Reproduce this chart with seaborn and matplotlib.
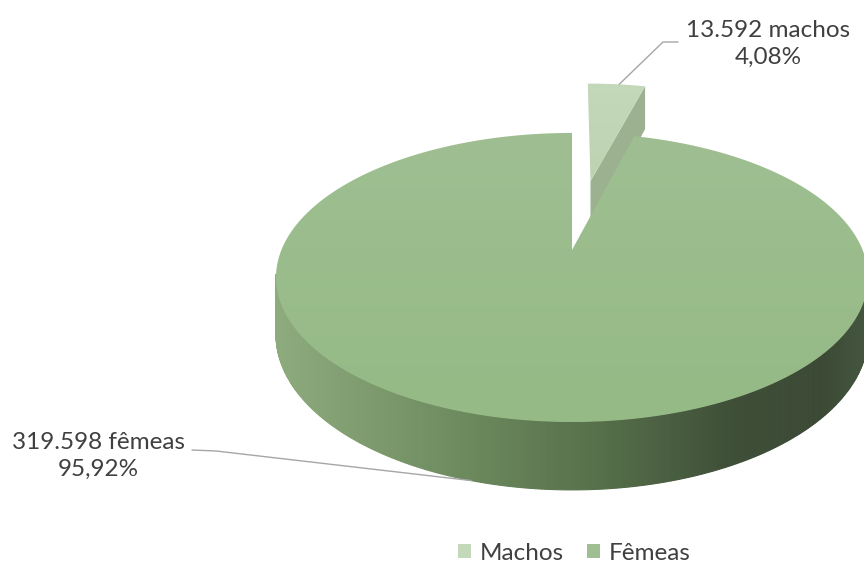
import numpy as np
import matplotlib
matplotlib.use("Agg")
import matplotlib.pyplot as plt
from matplotlib.patches import Polygon, Patch
from matplotlib.colors import LinearSegmentedColormap, to_rgb
import seaborn as sns

# ---- data ----
categories = ["Machos", "Fêmeas"]
label_names = ["machos", "fêmeas"]
counts = [13592, 319598]

# ---- style ----
top_colors = ["#c4d8ba", "#9fbf92"]
top_colors_low = ["#bcd3b1", "#95ba85"]
cut_face_color = "#9cb190"
wall_stops = [(0.0, "#8eac7e"), (0.3, "#6f8d60"), (0.55, "#56704b"),
              (0.78, "#3e4e37"), (0.93, "#3c4a35"), (1.0, "#455640")]
explode = [0.55, 0.0]

sns.set_theme(style="white")
plt.rcParams["font.family"] = ["Lato", "DejaVu Sans"]

W, Hh = 864, 565
fig = plt.figure(figsize=(W / 100, Hh / 100), dpi=100)
ax = fig.add_axes([0, 0, 1, 1])
ax.set_xlim(0, W)
ax.set_ylim(Hh, 0)
ax.axis("off")

# pseudo-3D projection of the pie disc (u: right, v: toward viewer)
CX, CY, A, C, K, DEPTH = 572.0, 250.0, 290.6, 139.3, 0.19, 55.0


def proj(u, v, z=0.0):
    s = 1.0 / (1.0 - K * v)
    return CX + A * u * s, CY + C * v * s + DEPTH * z * s


def disc_pt(theta_deg, r, off):
    t = np.radians(theta_deg)
    return r * np.sin(t) + off[0], -r * np.cos(t) + off[1]


wall_cmap = LinearSegmentedColormap.from_list(
    "wall", [(p, to_rgb(c)) for p, c in wall_stops])

total = float(sum(counts))
fracs = [c / total for c in counts]
starts = np.concatenate([[0.0], np.cumsum(fracs)[:-1]]) * 360.0
ends = np.cumsum(fracs) * 360.0

slice_geo = []
for i in range(len(counts)):
    mid = np.radians((starts[i] + ends[i]) / 2.0)
    off = (explode[i] * np.sin(mid), -explode[i] * np.cos(mid))
    slice_geo.append((starts[i], ends[i], off))

# draw back slice (machos) first, then front (fêmeas)
for i in [0, 1]:
    a0, a1, off = slice_geo[i]
    thetas = np.linspace(a0, a1, max(int((a1 - a0) / 0.5), 2) + 1)
    # outer wall strips facing the viewer (back to front)
    strips = []
    for t0, t1 in zip(thetas[:-1], thetas[1:]):
        u0, v0 = disc_pt(t0, 1, (0, 0))
        u1, v1 = disc_pt(t1, 1, (0, 0))
        if (v0 + v1) / 2 < K - 0.02:
            continue
        u0, v0 = disc_pt(t0, 1, off)
        u1, v1 = disc_pt(t1, 1, off)
        p = [proj(u0, v0), proj(u1, v1), proj(u1, v1, 1), proj(u0, v0, 1)]
        strips.append(((v0 + v1) / 2, p))
    strips.sort(key=lambda s: s[0])
    for _, p in strips:
        xm = np.mean([q[0] for q in p])
        col = wall_cmap(np.clip((xm - 270) / (866 - 270), 0, 1))
        ax.add_patch(Polygon(p, closed=True, facecolor=col, edgecolor=col,
                             lw=0.8, zorder=2 + i * 3))
    # visible radial cut face (the one at the end angle, facing right)
    if i == 0:
        uc, vc = off
        ue, ve = disc_pt(a1, 1, off)
        p = [proj(uc, vc), proj(ue, ve), proj(ue, ve, 1), proj(uc, vc, 1)]
        ax.add_patch(Polygon(p, closed=True, facecolor=cut_face_color,
                             edgecolor="none", zorder=3 + i * 3))
    # top face with slight vertical gradient
    pts = [proj(*off)] + [proj(*disc_pt(t, 1, off)) for t in thetas]
    poly = Polygon(pts, closed=True, facecolor="none", edgecolor="none",
                   zorder=4 + i * 3)
    ax.add_patch(poly)
    ys = [q[1] for q in pts]
    xs = [q[0] for q in pts]
    grad_cmap = LinearSegmentedColormap.from_list(
        "g%d" % i, [to_rgb(top_colors[i]), to_rgb(top_colors_low[i])])
    im = ax.imshow(np.linspace(0, 1, 256).reshape(-1, 1), cmap=grad_cmap,
                   extent=[min(xs) - 2, max(xs) + 2, max(ys) + 2, min(ys) - 2],
                   aspect="auto", zorder=4 + i * 3, interpolation="bilinear")
    im.set_clip_path(poly)

ax.set_xlim(0, W)
ax.set_ylim(Hh, 0)


def fmt_int(n):
    return f"{n:,}".replace(",", ".")


def fmt_pct(f):
    return f"{f * 100:.2f}".replace(".", ",") + "%"


labels = [f"{fmt_int(c)} {n}\n{fmt_pct(f)}"
          for c, n, f in zip(counts, label_names, fracs)]

# label positions / leader lines (style)
label_pos = [(768, 44), (98, 456)]
anchor_angle = [8.0, 196.5]
anchor_r = [1.0, 1.0]
anchor_z = [0.0, 1.0]
elbow = [[(663, 42), (678, 42)], [(216, 451), (192, 450)]]
for i in range(len(counts)):
    a0, a1, off = slice_geo[i]
    u, v = disc_pt(anchor_angle[i], anchor_r[i], off)
    ax0, ay0 = proj(u, v, anchor_z[i])
    xs = [ax0] + [e[0] for e in elbow[i]]
    ys = [ay0] + [e[1] for e in elbow[i]]
    ax.plot(xs, ys, color="#a6a6a6", lw=1.0, zorder=20)
    ax.text(label_pos[i][0], label_pos[i][1], labels[i], ha="center",
            va="center", fontsize=17.5, color="#404040", linespacing=1.3,
            zorder=21)

handles = [Patch(facecolor=top_colors[k], edgecolor="none") for k in range(2)]
ax.legend(handles, categories, loc="center", bbox_to_anchor=(574 / W, 1 - 553 / Hh),
          ncol=2, frameon=False, fontsize=17.5, handlelength=0.55, handleheight=0.55,
          handletextpad=0.35, columnspacing=0.95, labelcolor="#404040")

fig.savefig("out.png", dpi=100, facecolor="white")
